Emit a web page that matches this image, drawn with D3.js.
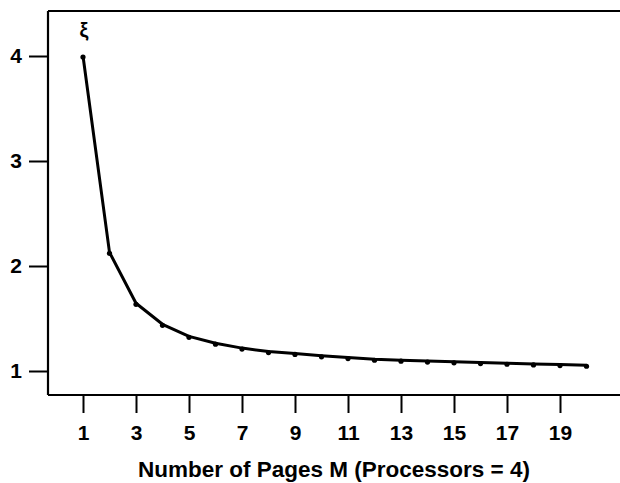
<!DOCTYPE html>
<html><head><meta charset="utf-8">
<script src="https://cdn.jsdelivr.net/npm/d3@7"></script>
<style>body{margin:0;background:#fff}svg{display:block}text{font-family:"Liberation Sans",Arial,sans-serif;fill:#000}</style>
</head><body>
<script>
const pages = [1,2,3,4,5,6,7,8,9,10,11,12,13,14,15,16,17,18,19,20];
const xi = [4.0,2.13,1.645,1.445,1.33,1.265,1.218,1.185,1.167,1.145,1.128,1.112,1.103,1.095,1.087,1.08,1.074,1.067,1.061,1.055];
const xTicks = [1,3,5,7,9,11,13,15,17,19];
const yTicks = [1,2,3,4];
const xTitle = "Number of Pages M (Processors = 4)";
const seriesLabel = "ξ";

const W = 620, H = 483;
const svg = d3.select("body").append("svg").attr("width", W).attr("height", H);
const x = d3.scaleLinear().domain([1,20]).range([83,586.5]);
const y = d3.scaleLinear().domain([1,4]).range([371,56]);
const frameLeft = 48, frameTop = 11, frameBottom = 395;

// frame lines (top, left, bottom)
svg.append("line").attr("x1",frameLeft).attr("x2",W).attr("y1",frameTop).attr("y2",frameTop).attr("stroke","#000").attr("stroke-width",2);
svg.append("line").attr("x1",frameLeft).attr("x2",frameLeft).attr("y1",frameTop).attr("y2",frameBottom).attr("stroke","#000").attr("stroke-width",2.2);

// x axis
const xAxis = svg.append("g").attr("transform",`translate(0,${frameBottom})`)
  .call(d3.axisBottom(x).tickValues(xTicks).tickSize(18).tickPadding(12).tickFormat(d3.format("d")));
xAxis.select(".domain").attr("d",`M${frameLeft},0H${W}`).attr("stroke-width",2.2);
xAxis.selectAll(".tick line").attr("stroke-width",2);
xAxis.selectAll("text").attr("font-size",21).attr("font-weight","bold").attr("font-family","'Liberation Sans',Arial,sans-serif");

// y axis
const yAxis = svg.append("g").attr("transform",`translate(${frameLeft},0)`)
  .call(d3.axisLeft(y).tickValues(yTicks).tickSize(19).tickPadding(7).tickFormat(d3.format("d")));
yAxis.select(".domain").remove();
yAxis.selectAll(".tick line").attr("stroke-width",2);
yAxis.selectAll("text").attr("font-size",21).attr("font-weight","bold").attr("font-family","'Liberation Sans',Arial,sans-serif");

// line
const data = pages.map((p,i)=>({p, v: xi[i]}));
svg.append("path").datum(data)
  .attr("d", d3.line().x(d=>x(d.p)).y(d=>y(d.v)))
  .attr("fill","none").attr("stroke","#000").attr("stroke-width",3).attr("stroke-linejoin","round");
svg.selectAll("circle.pt").data(data).enter().append("circle")
  .attr("cx",d=>x(d.p)).attr("cy",d=>y(d.v)+1).attr("r",2.6).attr("fill","#000");

// labels
svg.append("text").attr("x",x(1)+1).attr("y",37).attr("text-anchor","middle")
  .attr("font-size",20).attr("font-weight","bold").text(seriesLabel);
svg.append("text").attr("x",334).attr("y",477).attr("text-anchor","middle")
  .attr("font-size",22.5).attr("font-weight","bold").text(xTitle);
</script>
</body></html>
